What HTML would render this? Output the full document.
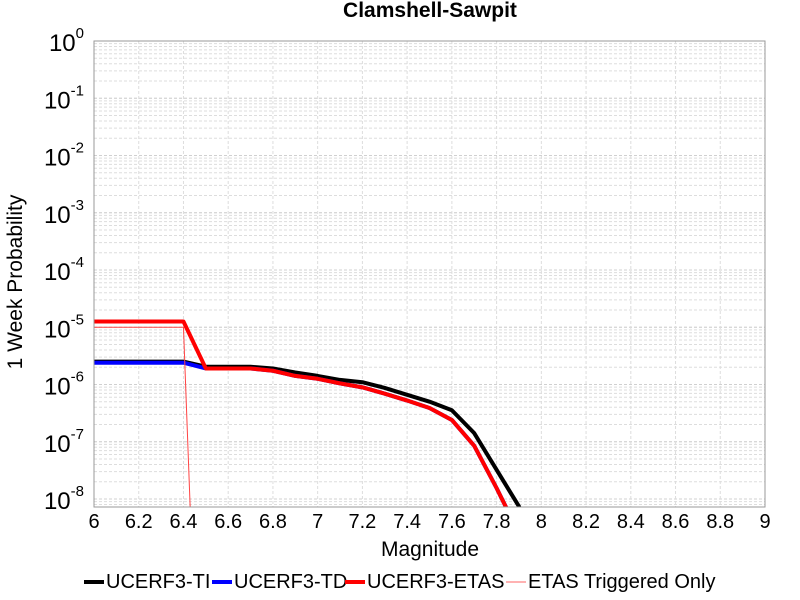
<!DOCTYPE html>
<html><head><meta charset="utf-8"><style>
html,body{margin:0;background:#fff;font-family:"Liberation Sans",sans-serif;overflow:hidden;width:800px;height:600px}
svg{display:block}
</style></head><body>
<svg id="chart" width="800" height="600" xmlns="http://www.w3.org/2000/svg" font-family="Liberation Sans, sans-serif">
<text x="430" y="17" text-anchor="middle" font-size="21" font-weight="bold">Clamshell-Sawpit</text>
<g id="grid"></g>
<g id="axes"></g>
<defs><clipPath id="clip"><rect x="94" y="41" width="671" height="466"/></clipPath></defs>
<g id="series" clip-path="url(#clip)"></g>
<rect x="94" y="41" width="671" height="466" fill="none" stroke="#999"/>
<text x="430" y="556" text-anchor="middle" font-size="21">Magnitude</text>
<text transform="translate(22,282) rotate(-90)" text-anchor="middle" font-size="21">1 Week Probability</text>
<g id="legend"></g>
</svg>
<script>
const mags=[6.0,6.1,6.2,6.3,6.4,6.5,6.6,6.7,6.8,6.9,7.0,7.1,7.2,7.3,7.4,7.5,7.6,7.7,7.8,7.9,8.0];
const tiLog=[-5.60,-5.60,-5.60,-5.60,-5.60,-5.69,-5.69,-5.69,-5.72,-5.79,-5.85,-5.92,-5.96,-6.06,-6.18,-6.30,-6.45,-6.85,-7.49,-8.13,-9.0];
const tdLog=[-5.62,-5.62,-5.62,-5.62,-5.62,-5.72,-5.72,-5.72,-5.76,-5.85,-5.90,-5.98,-6.05,-6.16,-6.28,-6.41,-6.62,-7.07,-7.81,-8.6,-9.5];
const etasLog=[-4.90,-4.90,-4.90,-4.90,-4.90,-5.72,-5.72,-5.72,-5.76,-5.85,-5.90,-5.98,-6.05,-6.16,-6.28,-6.41,-6.62,-7.07,-7.81,-8.6,-9.5];
const trigMags=[6.0,6.1,6.2,6.3,6.4,6.5];
const trigLog=[-5.0,-5.0,-5.0,-5.0,-5.0,-15.5];
const xTicks=[6,6.2,6.4,6.6,6.8,7,7.2,7.4,7.6,7.8,8,8.2,8.4,8.6,8.8,9];
const yDecades=[0,-1,-2,-3,-4,-5,-6,-7,-8];
const legendLabels=["UCERF3-TI","UCERF3-TD","UCERF3-ETAS","ETAS Triggered Only"];

const L=94,R=765,T=41,B=507;
const xs=m=>L+(m-6)/3*(R-L);
const ys=lg=>T+(-lg)*57.25;
const NS="http://www.w3.org/2000/svg";
function mk(tag,attrs,parent){const e=document.createElementNS(NS,tag);for(const k in attrs)e.setAttribute(k,attrs[k]);parent.appendChild(e);return e;}
const grid=document.getElementById('grid'),axes=document.getElementById('axes'),ser=document.getElementById('series'),leg=document.getElementById('legend');
for(const d of yDecades){
  for(let k=1;k<=9;k++){
    const y=ys(d-1+Math.log10(k));
    if(y<T||y>B)continue;
    const ln=mk('line',{x1:L,x2:R,y1:y,y2:y,stroke:'#ddd','stroke-dasharray':'3,2','stroke-width':1},grid);
    
    
  }
  const yy=ys(d);
  const ln2=mk('line',{x1:L,x2:R,y1:yy,y2:yy,stroke:'#d0d0d0','stroke-dasharray':'3,2'},grid);
  
  
  const t=mk('text',{x:L-10,y:yy+10,'text-anchor':'end','font-size':24},axes);
  
  
  t.textContent='10';
  const s=mk('tspan',{dy:-13,'font-size':15},t);s.textContent=String(d);
}
for(const m of xTicks){
  const x=xs(m);
  const ln=mk('line',{x1:x,x2:x,y1:T,y2:B,stroke:'#ddd','stroke-dasharray':'3,2'},grid);
  
  
  const t=mk('text',{x:x,y:528,'text-anchor':'middle','font-size':20},axes);
  
  
  t.textContent=String(m);
}
function line(mx,vals,color,w,name){
  const p=mk('polyline',{points:mx.map((m,i)=>xs(m)+','+ys(vals[i])).join(' '),fill:'none',stroke:color,'stroke-width':w,'stroke-linejoin':'round'},ser);
  
  
}
line(mags,tiLog,'#000',4,'series-ucerf3-ti');
line(mags,tdLog,'#0000ff',4,'series-ucerf3-td');
line(mags,etasLog,'#ff0000',4,'series-ucerf3-etas');
line(trigMags,trigLog,'#ff4444',1,'series-etas-triggered');
const lx=[84,212,345,506],cols=['#000','#0000ff','#ff0000','#ff6666'],wd=[4,4,4,1];
legendLabels.forEach((lab,i)=>{
  const g=mk('g',{},leg);
  
  
  mk('line',{x1:lx[i],x2:lx[i]+20,y1:582,y2:582,stroke:cols[i],'stroke-width':wd[i]},g);
  const t=mk('text',{x:lx[i]+22,y:588,'font-size':20},g);t.textContent=lab;
});
</script>
</body></html>
